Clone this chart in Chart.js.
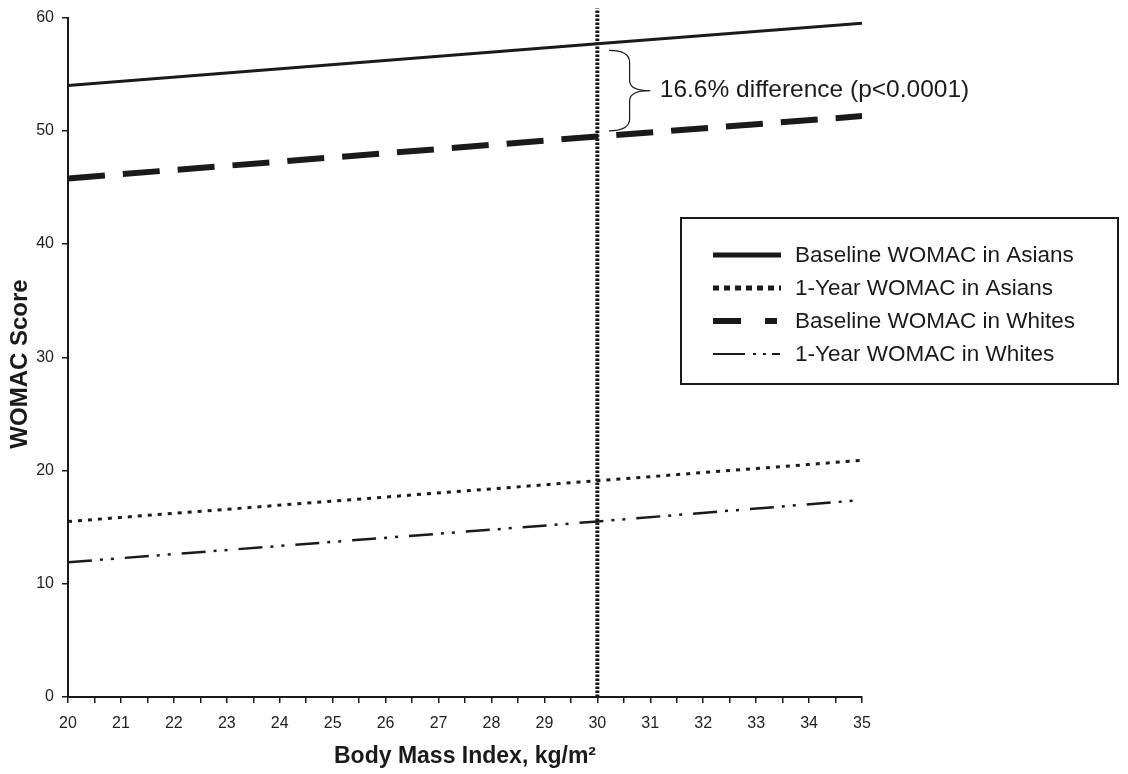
<!DOCTYPE html>
<html>
<head>
<meta charset="utf-8">
<script src="https://cdn.jsdelivr.net/npm/chart.js@4.4.1/dist/chart.umd.min.js"></script>
<style>
  html, body { margin: 0; padding: 0; background: #fff; }
  canvas { display: block; }
</style>
</head>
<body>
<canvas id="chart" width="1128" height="774"></canvas>
<script>
// data
const bmi = [20, 30, 35];
const baselineAsians = [54.0, 57.7, 59.5];
const yearAsians = [15.5, 19.1, 20.9];
const baselineWhites = [45.8, 49.5, 51.3];
const yearWhites = [11.9, 15.5, 17.4];
const seriesLabels = [
  'Baseline WOMAC in Asians',
  '1-Year WOMAC in Asians',
  'Baseline WOMAC in Whites',
  '1-Year WOMAC in Whites'
];
const cutoffBmi = 30;
const cutoffRange = [0, 60.8];
const bracketRange = [57.1, 50.0];
const noteText = '16.6% difference (p<0.0001)';

const ink = '#1a1a1a';
const font = '"Liberation Sans", Arial, sans-serif';

function points(values) {
  return bmi.map((x, i) => ({ x: x, y: values[i] }));
}

// legend inside a box, drawn by hand
const boxLegend = {
  id: 'boxLegend',
  afterDatasetsDraw(chart) {
    const ctx = chart.ctx;
    const styles = [
      { w: 5, dash: [] },
      { w: 5, dash: [6, 5] },
      { w: 6, dash: [28, 24, 12, 100] },
      { w: 2, dash: [32, 8, 3, 7, 3, 6, 8, 100] }
    ];
    ctx.save();
    ctx.strokeStyle = ink;
    ctx.lineWidth = 2;
    ctx.strokeRect(681, 218, 437, 166);
    ctx.font = '22.5px ' + font;
    ctx.textBaseline = 'middle';
    ctx.fillStyle = ink;
    seriesLabels.forEach((label, i) => {
      const y = 255 + i * 33;
      ctx.beginPath();
      ctx.lineWidth = styles[i].w;
      ctx.setLineDash(styles[i].dash);
      ctx.moveTo(713, y);
      ctx.lineTo(781, y);
      ctx.stroke();
      ctx.setLineDash([]);
      ctx.fillText(label, 795, y + 1);
    });
    ctx.restore();
  }
};

// brace and note at the BMI 30 cutoff
const bracketNote = {
  id: 'bracketNote',
  afterDatasetsDraw(chart) {
    const ctx = chart.ctx;
    const xs = chart.scales.x, ys = chart.scales.y;
    const x0 = xs.getPixelForValue(30.22);
    const x1 = xs.getPixelForValue(31.0);
    const yTop = ys.getPixelForValue(bracketRange[0]);
    const yBot = ys.getPixelForValue(bracketRange[1]);
    const yMid = (yTop + yBot) / 2;
    const xm = (x0 + x1) / 2;
    ctx.save();
    ctx.strokeStyle = ink;
    ctx.lineWidth = 1.2;
    ctx.beginPath();
    ctx.moveTo(x0, yTop);
    ctx.quadraticCurveTo(xm, yTop, xm, yTop + 12);
    ctx.lineTo(xm, yMid - 10);
    ctx.quadraticCurveTo(xm, yMid, x1, yMid);
    ctx.quadraticCurveTo(xm, yMid, xm, yMid + 10);
    ctx.lineTo(xm, yBot - 12);
    ctx.quadraticCurveTo(xm, yBot, x0, yBot);
    ctx.stroke();
    ctx.font = '24.5px ' + font;
    ctx.fillStyle = ink;
    ctx.textBaseline = 'middle';
    ctx.fillText(noteText, xs.getPixelForValue(31.18), yMid);
    ctx.restore();
  }
};

const lineBase = { pointRadius: 0, tension: 0, borderColor: ink, fill: false, borderCapStyle: 'butt' };

new Chart(document.getElementById('chart').getContext('2d'), {
  type: 'line',
  data: {
    datasets: [
      Object.assign({}, lineBase, { label: seriesLabels[0], data: points(baselineAsians), borderWidth: 3 }),
      Object.assign({}, lineBase, { label: seriesLabels[1], data: points(yearAsians), borderWidth: 3, borderDash: [4, 6] }),
      Object.assign({}, lineBase, { label: seriesLabels[2], data: points(baselineWhites), borderWidth: 6, borderDash: [37, 18] }),
      Object.assign({}, lineBase, { label: seriesLabels[3], data: points(yearWhites), borderWidth: 2.5, borderDash: [24, 8, 3, 8, 3, 11] }),
      Object.assign({}, lineBase, {
        label: 'cutoff',
        data: cutoffRange.map(v => ({ x: cutoffBmi, y: v })),
        borderWidth: 4, borderDash: [2.5, 1.5], clip: false
      })
    ]
  },
  options: {
    responsive: false,
    animation: false,
    layout: { padding: { top: 17, right: 266, left: 0, bottom: 0 } },
    plugins: { legend: { display: false }, tooltip: { enabled: false } },
    scales: {
      x: {
        type: 'linear',
        min: 20, max: 35,
        afterFit(scale) { scale.height = 77; },
        border: { color: ink, width: 2 },
        grid: { drawOnChartArea: false, drawTicks: true, tickLength: 6, color: ink, lineWidth: 1.5 },
        ticks: {
          stepSize: 0.5, autoSkip: false, maxRotation: 0, padding: 11,
          color: '#222', font: { family: font, size: 16 },
          callback: v => Number.isInteger(v) ? v : ''
        },
        title: {
          display: true, text: 'Body Mass Index, kg/m\u00b2', color: ink,
          font: { family: font, size: 23, weight: 'bold' }, padding: { top: 2 }
        }
      },
      y: {
        min: 0, max: 60,
        afterFit(scale) { scale.width = 68; },
        border: { color: ink, width: 2 },
        grid: { drawOnChartArea: false, drawTicks: true, tickLength: 6, color: ink, lineWidth: 1.5 },
        ticks: { stepSize: 10, padding: 8, color: '#222', font: { family: font, size: 16 } },
        title: {
          // trailing spaces nudge the label a little below the axis middle
          display: true, text: 'WOMAC Score  ', color: ink,
          font: { family: font, size: 24, weight: 'bold' }, padding: { top: 6, bottom: 0 }
        }
      }
    }
  },
  plugins: [boxLegend, bracketNote]
});
</script>
</body>
</html>
